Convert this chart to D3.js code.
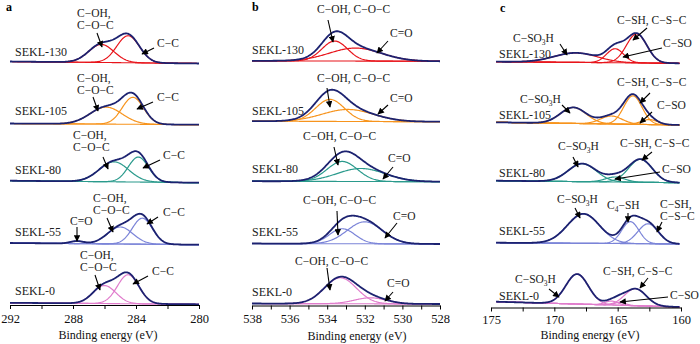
<!DOCTYPE html>
<html><head><meta charset="utf-8">
<script src="https://cdn.jsdelivr.net/npm/d3@7"></script>
<style>body{margin:0;background:#fff}svg{display:block}
svg text{font-family:"Liberation Serif","DejaVu Serif","Times New Roman",serif;}</style>
</head><body>
<script>
// ---------------- DATA ----------------
const samples = ["SEKL-130", "SEKL-105", "SEKL-80", "SEKL-55", "SEKL-0"];

// Panel a: C1s  (peak centres eV, heights a.u., FWHM eV), background level (right end) and rise (left end)
const aComponents = ["C=O", "C−OH, C−O−C", "C−C"];
const aOffsets = [241.5, 180.3, 122.3, 60.3, 0.7];
const aSteps = [2, 1.2, 2, 1.7, 1.5];
const aCenters = [[286.2, 284.5], [285.9, 284.2], [285.4, 283.85], [287.75, 285.0, 283.6], [286.0, 284.5]];
const aHeights = [[18, 27], [17, 27], [20, 25], [2.5, 17, 26], [18, 29]];
const aWidths = [[1.9, 1.7], [2.4, 1.6], [2.2, 1.5], [1.0, 1.9, 1.5], [1.7, 1.6]];
const aTickValues = [292, 290, 288, 286, 284, 282, 280];
const aTickLabels = ["292", "", "288", "", "284", "", "280"];

// Panel b: O1s
const bComponents = ["C−OH, C−O−C", "C=O"];
const bOffsets = [244.2, 183.8, 123.8, 61.5, 1.5];
const bSteps = [0.5, 0.5, 0.5, 0.5, 0.5];
const bCenters = [[533.6, 532.5], [533.85, 532.9], [533.2, 532.2], [533.2, 532.0], [533.3, 531.7]];
const bHeights = [[20, 13], [22, 12], [20, 13], [15, 22], [26, 6]];
const bWidths = [[1.6, 3.25], [1.8, 3.2], [1.9, 3.0], [1.6, 2.2], [2.0, 2.0]];
const bTickValues = [538, 537, 536, 535, 534, 533, 532, 531, 530, 529, 528];
const bTickLabels = ["538", "", "536", "", "534", "", "532", "", "530", "", "528"];

// Panel c: S2p
const cComponents = ["C−SO₃H", "C−SO", "C−SH, C−S−C"];
const cOffsets = [244.2, 182.5, 124.8, 63.5, 0.5];
const cSteps = [1.6, 2.7, 2, 1.3, 5.3];
const cCenters = [[168.3, 165.2, 163.5], [168.5, 165.5, 163.8, 162.5], [167.8, 165.2, 163.2], [167.7, 164.0, 162.6], [168.2, 165.5, 164.8, 163.6]];
const cHeights = [[9.5, 14, 29], [16, 8, 28.5, 5], [18, 5, 23], [29.5, 22, 20], [30, 4, 3, 17]];
const cWidths = [[4, 1.6, 1.9], [2.4, 2, 1.7, 1.5], [2.6, 1.8, 2.2], [3.0, 1.6, 1.9], [2.1, 1.2, 1.0, 2.0]];
const cTickValues = [175, 172.5, 170, 167.5, 165, 162.5, 160];
const cTickLabels = ["175", "", "170", "", "165", "", "160"];

const axisTitle = "Binding energy (eV)";
const panelLetters = ["a", "b", "c"];

// ---------------- LAYOUT / STYLE ----------------
const FONT = "'Liberation Serif','DejaVu Serif','Times New Roman',serif";
const navy = "#1c2270";
const sampleColors = ["#e8141b", "#f7941d", "#2a9a8c", "#7b84d8", "#e07ccc"];

const panels = [
  { letter: panelLetters[0], letterPos: [6, 11], domain: [292, 280], curve: [292, 280], range: [10, 199], axisY: 305, pad: 5,
    offsets: aOffsets, steps: aSteps, centers: aCenters, heights: aHeights, widths: aWidths,
    ticks: aTickValues, tickLabels: aTickLabels, labelX: 15, labelY: [56, 115, 174, 236, 295], titlePos: [108, 339] },
  { letter: panelLetters[1], letterPos: [252, 11], domain: [538, 528], curve: [538, 528], range: [252, 440], axisY: 305.5, pad: 5,
    offsets: bOffsets, steps: bSteps, centers: bCenters, heights: bHeights, widths: bWidths,
    ticks: bTickValues, tickLabels: bTickLabels, labelX: 252, labelY: [54, 115, 173, 235.5, 295.5], titlePos: [357, 340] },
  { letter: panelLetters[2], letterPos: [500, 12], domain: [175, 160], curve: [174.6, 160.1], range: [491, 681], axisY: 307.5, pad: 4,
    offsets: cOffsets, steps: cSteps, centers: cCenters, heights: cHeights, widths: cWidths,
    ticks: cTickValues, tickLabels: cTickLabels, labelX: 499, labelY: [58, 119, 176.5, 234.5, 300], titlePos: [590, 339] }
];

// annotation layout: lines of text (x, baseline y) and arrow (from -> to), pixel layout
const annotations = [
  // panel a
  { t: ["C−OH,", "C−O−C"], x: 77, y: 17, a: [97, 33, 102, 47] },
  { t: ["C−C"], x: 157, y: 47, a: [154, 48, 142, 54] },
  { t: ["C−OH,", "C−O−C"], x: 77, y: 82, a: [93, 97, 98, 111] },
  { t: ["C−C"], x: 157, y: 101, a: [153, 102, 137, 109] },
  { t: ["C−OH,", "C−O−C"], x: 73, y: 139, a: [103, 157, 108, 169] },
  { t: ["C−C"], x: 163, y: 159, a: [160, 160, 143, 168] },
  { t: ["C−OH,", "C−O−C"], x: 93, y: 202, a: [107, 218, 113, 232] },
  { t: ["C−C"], x: 163, y: 216, a: [158, 217, 147, 224] },
  { t: ["C=O"], x: 70, y: 225, a: [77, 227, 77, 241] },
  { t: ["C−OH,", "C−O−C"], x: 80, y: 259, a: [95, 275, 100, 290] },
  { t: ["C−C"], x: 152, y: 275, a: [148, 276, 133, 284] },
  // panel b
  { t: ["C−OH, C−O−C"], x: 317, y: 13, a: [328, 20, 333, 42] },
  { t: ["C=O"], x: 390, y: 37, a: [388, 41, 377, 53] },
  { t: ["C−OH, C−O−C"], x: 317, y: 82, a: [327, 88, 330, 107] },
  { t: ["C=O"], x: 390, y: 102, a: [388, 105, 378, 114] },
  { t: ["C−OH, C−O−C"], x: 303, y: 140, a: [334, 147, 338, 165] },
  { t: ["C=O"], x: 388, y: 162, a: [393, 167, 383, 179] },
  { t: ["C−OH, C−O−C"], x: 303, y: 204, a: [337, 211, 338, 235] },
  { t: ["C=O"], x: 393, y: 220, a: [397, 223, 385, 238] },
  { t: ["C−OH, C−O−C"], x: 295, y: 265, a: [327, 268, 330, 290] },
  { t: ["C=O"], x: 387, y: 287, a: [393, 292, 385, 301] },
  // panel c
  { t: ["C−SO₃H"], x: 513, y: 42, a: [560, 44, 567, 55] },
  { t: ["C−SH, C−S−C"], x: 617, y: 24, a: [647, 28, 633, 40] },
  { t: ["C−SO"], x: 663, y: 47, a: [662, 48, 623, 57] },
  { t: ["C−SO₃H"], x: 520, y: 103, a: [562, 105, 570, 113] },
  { t: ["C−SH, C−S−C"], x: 617, y: 86, a: [650, 93, 640, 103] },
  { t: ["C−SO"], x: 657, y: 109, a: [652, 112, 640, 123] },
  { t: ["C−SO₃H"], x: 558, y: 150, a: [573, 157, 578, 167] },
  { t: ["C−SH, C−S−C"], x: 620, y: 147, a: [652, 152, 642, 160] },
  { t: ["C−SO"], x: 662, y: 173, a: [660, 172, 615, 179] },
  { t: ["C−SO₃H"], x: 557, y: 203, a: [575, 208, 580, 218] },
  { t: ["C₄−SH"], x: 607, y: 209, a: [628, 213, 628, 222] },
  { t: ["C−SH,", "C−S−C"], x: 660, y: 208, a: [662, 222, 657, 232] },
  { t: ["C−SO₃H"], x: 515, y: 283, a: [549, 289, 559, 297] },
  { t: ["C−SH, C−S−C"], x: 603, y: 275, a: [648, 278, 640, 288] },
  { t: ["C−SO"], x: 670, y: 299, a: [668, 297, 620, 302] }
];

// ---------------- DRAW ----------------
const svg = d3.select("body").append("svg")
  .attr("width", 700).attr("height", 344)
  .attr("font-family", FONT);

svg.append("defs").append("marker")
  .attr("id", "ah").attr("viewBox", "0 0 10 10")
  .attr("refX", 9).attr("refY", 5)
  .attr("markerUnits", "userSpaceOnUse")
  .attr("markerWidth", 7).attr("markerHeight", 6.5)
  .attr("orient", "auto")
  .append("path").attr("d", "M0,0 L10,5 L0,10 Z").attr("fill", "#000");

const g4 = 4 * Math.LN2;
function peak(e, c, h, w) { return h * Math.exp(-g4 * (e - c) * (e - c) / (w * w)); }

panels.forEach(p => {
  const x = d3.scaleLinear().domain(p.domain).range(p.range);
  const y = d3.scaleLinear().domain([0, 250]).range([p.axisY, p.axisY - 250]);
  const eL = p.curve[0], eR = p.curve[1];
  const grid = d3.range(eL, eR - 1e-9, -0.04);
  const G = svg.append("g");

  samples.forEach((s, i) => {
    const bg = e => p.offsets[i] + p.steps[i] * (e - eR) / (eL - eR);
    const line = d3.line().x(d => x(d[0])).y(d => y(d[1]));
    const col = sampleColors[i];
    G.append("path").attr("d", line(grid.map(e => [e, bg(e)])))
      .attr("fill", "none").attr("stroke", col).attr("stroke-width", 1.1);
    p.centers[i].forEach((c, k) => {
      const h = p.heights[i][k], w = p.widths[i][k];
      G.append("path").attr("d", line(grid.map(e => [e, bg(e) + peak(e, c, h, w)])))
        .attr("fill", "none").attr("stroke", col).attr("stroke-width", 1.2);
    });
    G.append("path").attr("d", line(grid.map(e => {
      let v = bg(e);
      p.centers[i].forEach((c, k) => { v += peak(e, c, p.heights[i][k], p.widths[i][k]); });
      return [e, v];
    }))).attr("fill", "none").attr("stroke", navy).attr("stroke-width", 1.8);
    G.append("text").attr("x", p.labelX).attr("y", p.labelY[i])
      .attr("font-family", FONT).attr("font-size", 12).attr("fill", "#222").text(s);
  });

  const ax = d3.axisBottom(x).tickValues(p.ticks)
    .tickFormat((d, j) => p.tickLabels[j]).tickSize(4).tickSizeOuter(0).tickPadding(p.pad);
  const axg = svg.append("g").attr("transform", `translate(0,${p.axisY})`).call(ax);
  axg.attr("font-family", FONT);
  axg.select(".domain").attr("stroke", "#000").attr("stroke-width", 1.1);
  axg.selectAll(".tick line").attr("stroke", "#000").attr("stroke-width", 1);
  axg.selectAll(".tick text").attr("font-size", 12.5).attr("fill", "#111").attr("font-family", FONT);

  svg.append("text").attr("x", p.titlePos[0]).attr("y", p.titlePos[1])
    .attr("text-anchor", "middle").attr("font-size", 12).attr("fill", "#111")
    .attr("font-family", FONT).text(axisTitle);
  svg.append("text").attr("x", p.letterPos[0]).attr("y", p.letterPos[1])
    .attr("font-size", 12).attr("font-weight", "bold").attr("fill", "#000")
    .attr("font-family", FONT).text(p.letter);
});

function addRich(sel, str) {
  const parts = str.split(/([₀-₉])/).filter(d => d !== "");
  let shifted = false;
  parts.forEach(part => {
    if (/[₀-₉]/.test(part)) {
      sel.append("tspan").attr("font-size", 7.5).attr("dy", 2.5)
        .text(String.fromCharCode(part.charCodeAt(0) - 0x2080 + 48));
      shifted = true;
    } else {
      const t = sel.append("tspan").text(part);
      if (shifted) { t.attr("dy", -2.5); shifted = false; }
    }
  });
}
const AG = svg.append("g");
annotations.forEach(an => {
  an.t.forEach((line, j) => {
    const t = AG.append("text").attr("x", an.x).attr("y", an.y + j * 12)
      .attr("font-family", FONT).attr("font-size", 11.5).attr("fill", "#222");
    addRich(t, line);
  });
  AG.append("line").attr("x1", an.a[0]).attr("y1", an.a[1]).attr("x2", an.a[2]).attr("y2", an.a[3])
    .attr("stroke", "#000").attr("stroke-width", 1.1).attr("marker-end", "url(#ah)");
});
</script>
</body></html>
